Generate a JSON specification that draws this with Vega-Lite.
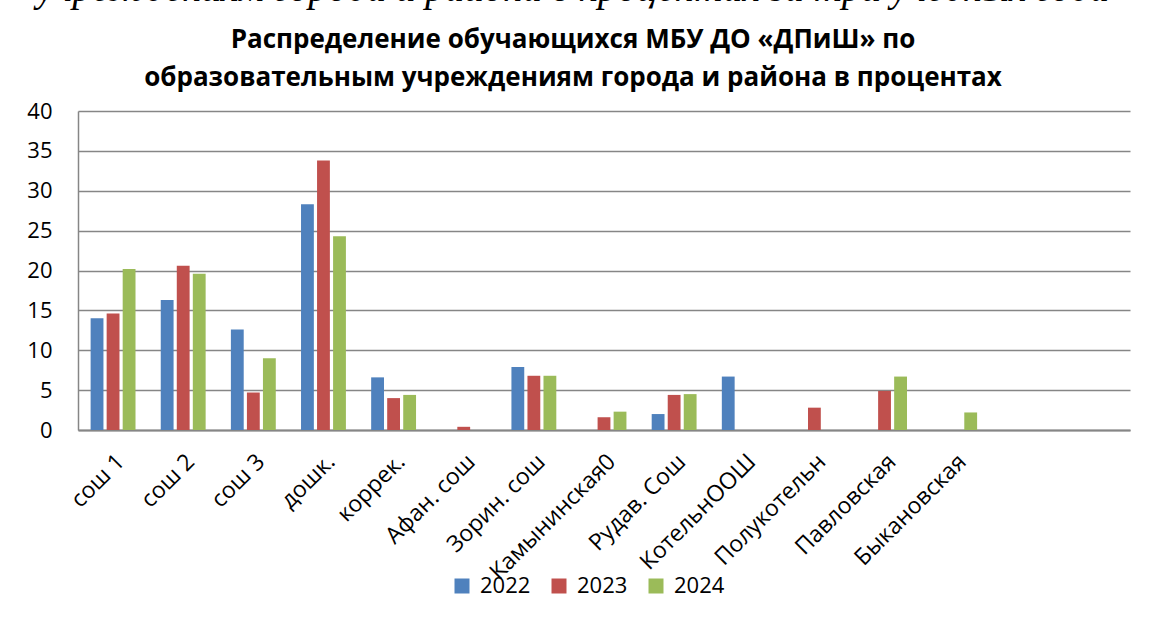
{
  "$schema": "https://vega.github.io/schema/vega-lite/v6.json",
  "width": 1052,
  "height": 319,
  "autosize": "none",
  "padding": {"left": 78, "top": 111, "right": 20, "bottom": 187},
  "background": "white",
  "title": {
    "text": "\u00a0\u00a0\u00a0\u00a0учреждениям города и района в процентах за три учебных года",
    "subtitle": ["Распределение обучающихся  МБУ ДО «ДПиШ» по", "образовательным учреждениям города и района в процентах"],
    "font": "Liberation Serif",
    "fontStyle": "italic",
    "fontWeight": "normal",
    "fontSize": 39,
    "color": "black",
    "subtitleFont": "Open Sans",
    "subtitleFontWeight": "bold",
    "subtitleFontSize": 26,
    "subtitleColor": "black",
    "subtitleLineHeight": 38,
    "subtitlePadding": 18,
    "anchor": "middle",
    "frame": "group",
    "offset": 9,
    "dx": -31
  },
  "config": {"view": {"stroke": null}, "font": "Open Sans"},
  "data": {
    "values": [
      {"school": "сош 1", "year": "2022", "value": 14.0},
      {"school": "сош 1", "year": "2023", "value": 14.6},
      {"school": "сош 1", "year": "2024", "value": 20.2},
      {"school": "сош 2", "year": "2022", "value": 16.3},
      {"school": "сош 2", "year": "2023", "value": 20.6},
      {"school": "сош 2", "year": "2024", "value": 19.6},
      {"school": "сош 3", "year": "2022", "value": 12.6},
      {"school": "сош 3", "year": "2023", "value": 4.7},
      {"school": "сош 3", "year": "2024", "value": 9.0},
      {"school": "дошк.", "year": "2022", "value": 28.3},
      {"school": "дошк.", "year": "2023", "value": 33.8},
      {"school": "дошк.", "year": "2024", "value": 24.3},
      {"school": "коррек.", "year": "2022", "value": 6.6},
      {"school": "коррек.", "year": "2023", "value": 4.0},
      {"school": "коррек.", "year": "2024", "value": 4.4},
      {"school": "Афан. сош", "year": "2023", "value": 0.4},
      {"school": "Зорин. сош", "year": "2022", "value": 7.9},
      {"school": "Зорин. сош", "year": "2023", "value": 6.8},
      {"school": "Зорин. сош", "year": "2024", "value": 6.8},
      {"school": "Камынинская0", "year": "2023", "value": 1.6},
      {"school": "Камынинская0", "year": "2024", "value": 2.3},
      {"school": "Рудав. Сош", "year": "2022", "value": 2.0},
      {"school": "Рудав. Сош", "year": "2023", "value": 4.4},
      {"school": "Рудав. Сош", "year": "2024", "value": 4.5},
      {"school": "КотельнООШ", "year": "2022", "value": 6.7},
      {"school": "Полукотельн", "year": "2023", "value": 2.8},
      {"school": "Павловская", "year": "2023", "value": 4.9},
      {"school": "Павловская", "year": "2024", "value": 6.7},
      {"school": "Быкановская", "year": "2024", "value": 2.2}
    ]
  },
  "mark": {"type": "bar"},
  "encoding": {
    "x": {
      "field": "school",
      "type": "nominal",
      "sort": null,
      "scale": {
        "domain": ["сош 1", "сош 2", "сош 3", "дошк.", "коррек.", "Афан. сош", "Зорин. сош", "Камынинская0", "Рудав. Сош", "КотельнООШ", "Полукотельн", "Павловская", "Быкановская", " ", "  "],
        "paddingInner": 0.36,
        "paddingOuter": 0.18
      },
      "axis": {
        "title": null,
        "labelAngle": -45,
        "labelAlign": "right",
        "labelBaseline": "top",
        "labelPadding": 20,
        "labelFont": "Open Sans",
        "labelFontSize": 23,
        "labelColor": "black",
        "labelOverlap": false,
        "labelBound": false,
        "ticks": false,
        "grid": false,
        "domainColor": "#868686",
        "domainWidth": 2
      }
    },
    "xOffset": {
      "field": "year",
      "type": "nominal",
      "scale": {"paddingInner": 0.2, "paddingOuter": 0}
    },
    "y": {
      "field": "value",
      "type": "quantitative",
      "scale": {"domain": [0, 40]},
      "axis": {
        "title": null,
        "values": [0, 5, 10, 15, 20, 25, 30, 35, 40],
        "grid": true,
        "gridColor": "#868686",
        "gridWidth": 1.5,
        "domainColor": "#868686",
        "domainWidth": 1.5,
        "ticks": false,
        "labelPadding": 26,
        "labelFont": "Open Sans",
        "labelFontSize": 22,
        "labelColor": "black"
      }
    },
    "color": {
      "field": "year",
      "type": "nominal",
      "scale": {"domain": ["2022", "2023", "2024"], "range": ["#4F81BD", "#C0504D", "#9BBB59"]},
      "legend": {
        "title": null,
        "orient": "none",
        "legendX": 373,
        "legendY": 464,
        "direction": "horizontal",
        "symbolType": "square",
        "symbolSize": 225,
        "symbolStrokeWidth": 0,
        "symbolOpacity": 1,
        "labelFont": "Open Sans",
        "labelFontSize": 22,
        "labelColor": "black",
        "labelOffset": 7,
        "columnPadding": 17
      }
    }
  }
}
